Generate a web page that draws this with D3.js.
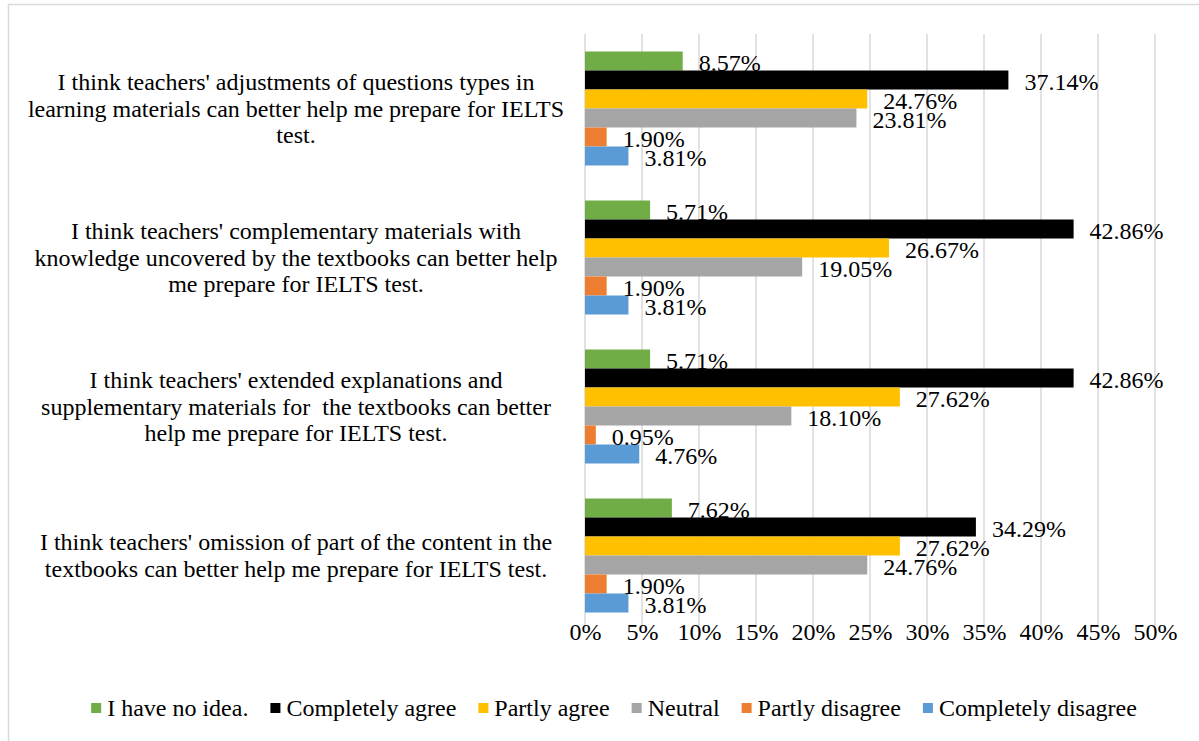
<!DOCTYPE html>
<meta charset="utf-8">
<body>
<svg width="1199" height="741" font-family="Liberation Serif"></svg>
<script src="https://d3js.org/d3.v7.min.js"></script>
<script>

    // category labels, already broken into lines the way the picture shows them
    var categories = [
        "I think teachers' adjustments of questions types in\nlearning materials can better help me prepare for IELTS\ntest.",
        "I think teachers' complementary materials with\nknowledge uncovered by the textbooks can better help\nme prepare for IELTS test.",
        "I think teachers' extended explanations and\nsupplementary materials for  the textbooks can better\nhelp me prepare for IELTS test.",
        "I think teachers' omission of part of the content in the\ntextbooks can better help me prepare for IELTS test."
    ];

    var seriesNames = ["I have no idea.", "Completely agree", "Partly agree", "Neutral", "Partly disagree", "Completely disagree"];
    var seriesColors = ["#70ad47", "#000000", "#ffc000", "#a5a5a5", "#ed7d31", "#5b9bd5"];

    // one array per series, values in percent, same order as categories
    var noIdea = [8.57, 5.71, 5.71, 7.62];
    var completelyAgree = [37.14, 42.86, 42.86, 34.29];
    var partlyAgree = [24.76, 26.67, 27.62, 27.62];
    var neutral = [23.81, 19.05, 18.10, 24.76];
    var partlyDisagree = [1.90, 1.90, 0.95, 1.90];
    var completelyDisagree = [3.81, 3.81, 4.76, 3.81];

    var xTicks = [0, 5, 10, 15, 20, 25, 30, 35, 40, 45, 50];

    var seriesValues = [noIdea, completelyAgree, partlyAgree, neutral, partlyDisagree, completelyDisagree];

    d3.select("body").style("margin", "0px").style("background", "#fff");

    var svg = d3.select("svg"),
        fontSize = 24,
        serif = "'Liberation Serif'";

    function draw() {

        // outer chart frame
        svg.append("rect")
            .attr("x", 8.5).attr("y", 4.5)
            .attr("width", 1260).attr("height", 800)
            .attr("fill", "none")
            .attr("stroke", "#d9d9d9")
            .attr("stroke-width", 1.5);

        var x = d3.scaleLinear()
            .domain([0, 50])
            .range([585, 1155]);

        var y = d3.scaleBand()
            .domain(d3.range(categories.length))
            .range([34, 630])
            .paddingInner(0.235)
            .paddingOuter(0.1175);

        var ys = d3.scaleBand()
            .domain(d3.range(seriesNames.length))
            .range([0, y.bandwidth()]);

        // gridlines
        svg.append("g")
            .selectAll("line")
            .data(xTicks)
            .enter().append("line")
            .attr("x1", function(d) { return x(d); })
            .attr("x2", function(d) { return x(d); })
            .attr("y1", y.range()[0])
            .attr("y2", y.range()[1] - 2)
            .attr("stroke", "#d9d9d9")
            .attr("stroke-width", 1.5);

        // x axis labels
        var xAxis = svg.append("g")
            .attr("transform", "translate(0,640)")
            .call(d3.axisBottom(x).tickValues(xTicks).tickSize(0).tickPadding(0)
                .tickFormat(function(d) { return d + "%"; }));
        xAxis.attr("font-family", "Liberation Serif");
        xAxis.select(".domain").remove();
        xAxis.selectAll("text")
            .attr("font-size", fontSize)
            .attr("dy", 0)
            .attr("y", 0);

        // category labels
        var catG = svg.append("g");
        categories.forEach(function(c, i) {
            var lines = c.split("\n"),
                lh = 26.5,
                cy = y(i) + y.bandwidth() / 2;
            var t = catG.append("text")
                .attr("xml:space", "preserve")
                .attr("text-anchor", "middle")
                .attr("font-size", fontSize);
            lines.forEach(function(l, k) {
                t.append("tspan")
                    .attr("x", 296)
                    .attr("y", cy + (k - (lines.length - 1) / 2) * lh + 8)
                    .text(l);
            });
        });

        // bars
        var rows = [];
        categories.forEach(function(c, i) {
            seriesValues.forEach(function(vals, s) {
                rows.push({cat: i, s: s, v: vals[i]});
            });
        });

        svg.append("g")
            .selectAll("rect")
            .data(rows)
            .enter().append("rect")
            .attr("x", x(0))
            .attr("y", function(d) { return y(d.cat) + ys(d.s); })
            .attr("width", function(d) { return x(d.v) - x(0); })
            .attr("height", ys.bandwidth())
            .attr("fill", function(d) { return seriesColors[d.s]; });

        // data labels
        svg.append("g")
            .selectAll("text")
            .data(rows)
            .enter().append("text")
            .attr("x", function(d) { return x(d.v) + 16; })
            .attr("y", function(d) { return y(d.cat) + ys(d.s) + ys.bandwidth() / 2 + 10; })
            .attr("font-size", fontSize)
            .text(function(d) { return d.v.toFixed(2) + "%"; });

        // legend
        var legend = svg.append("g"),
            items = legend.selectAll("g")
                .data(seriesNames)
                .enter().append("g");

        items.append("rect")
            .attr("y", 703)
            .attr("width", 10).attr("height", 10)
            .attr("fill", function(d, i) { return seriesColors[i]; });
        items.append("text")
            .attr("x", 16)
            .attr("y", 716)
            .attr("font-size", fontSize)
            .text(function(d) { return d; });

        svg.selectAll("text").style("font-family", serif).attr("fill", "#000");

        var widths = [];
        items.select("text").each(function() { widths.push(this.getComputedTextLength()); });
        var total = d3.sum(widths) + seriesNames.length * 16 + (seriesNames.length - 1) * 22,
            lx = 614 - total / 2;
        items.attr("transform", function(d, i) {
            var t = "translate(" + lx + ",0)";
            lx += 16 + widths[i] + 22;
            return t;
        });
    }

    if (document.fonts && document.fonts.ready) {
        document.fonts.ready.then(draw);
    } else {
        draw();
    }

</script>
</body>
